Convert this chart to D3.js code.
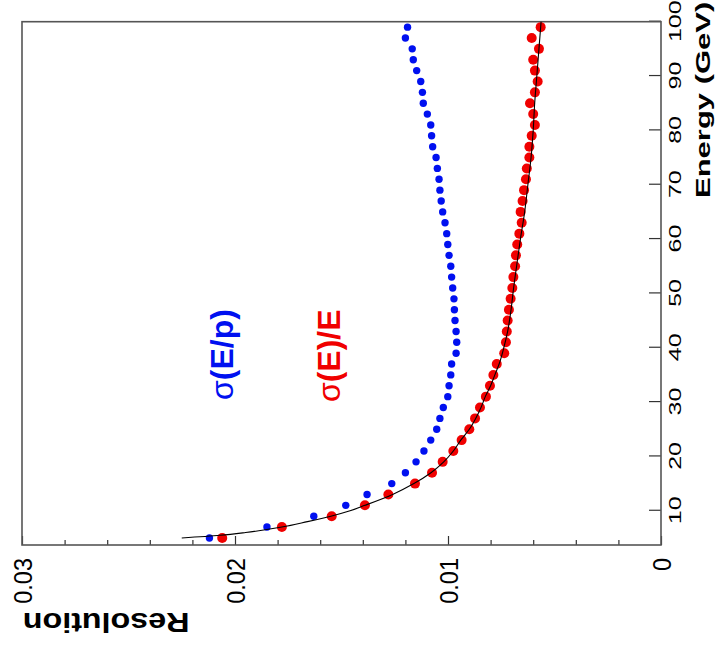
<!DOCTYPE html>
<html><head><meta charset="utf-8">
<script src="https://cdn.jsdelivr.net/npm/d3@7"></script>
<style>html,body{margin:0;padding:0;background:#fff}svg{display:block}</style>
</head><body><svg id="c" width="722" height="653"></svg>
<script>
// ---- data ----
const energies = [5,7,9,11,13,15,17,19,21,23,25,27,29,31,33,35,37,39,41,43,45,47,49,51,53,55,57,59,61,63,65,67,69,71,73,75,77,79,81,83,85,87,89,91,93,95,97,99];
const sigmaEoverP = [0.0212,0.0185,0.0163,0.0148,0.0138,0.01264,0.0120,0.0115,0.01113,0.01081,0.01053,0.01038,0.01022,0.01001,0.00995,0.00987,0.00983,0.00962,0.00959,0.00962,0.00967,0.00970,0.00972,0.00978,0.00983,0.00987,0.00995,0.01001,0.01006,0.01014,0.01025,0.01032,0.01038,0.01042,0.01050,0.01056,0.01072,0.01077,0.01081,0.01097,0.01116,0.01120,0.01128,0.01147,0.01163,0.01168,0.01200,0.01190];
const sigmaEoverE = [0.0206,0.0178,0.01546,0.0139,0.0128,0.01155,0.01075,0.01025,0.00975,0.00936,0.00900,0.00873,0.00850,0.00822,0.00803,0.00787,0.00771,0.00736,0.00728,0.00724,0.00720,0.00714,0.00706,0.00698,0.00693,0.00685,0.00681,0.00675,0.00665,0.00654,0.00659,0.00650,0.00643,0.00634,0.00630,0.00618,0.00618,0.00607,0.00592,0.00600,0.00615,0.00592,0.00579,0.00592,0.00600,0.00573,0.00607,0.00565];
const fitEnergy = [5,5.5,6,7,8,9,10,11,13,15,17,19,21,23,25,27,29,31,33,35,37,40,43,47,51,55,60,65,70,75,80,85,90,95,100];
const fitRes = [0.0225,0.0207,0.0195,0.0178,0.0166,0.0155,0.0146,0.0139,0.0126,0.0116,0.0108,0.0102,0.00975,0.0094,0.0090,0.0087,0.00845,0.00825,0.0080,0.0078,0.0076,0.00738,0.0072,0.00704,0.00692,0.00678,0.0066,0.0064,0.00625,0.0061,0.0060,0.00593,0.00583,0.00573,0.00563];
const energyTicks = [10,20,30,40,50,60,70,80,90,100];
const resTicks = [0,0.01,0.02,0.03];
const resMinorTicks = [0.002,0.004,0.006,0.008,0.012,0.014,0.016,0.018,0.022,0.024,0.026,0.028];
const seriesLabels = ["\u03c3", "(E/p)", "(E)/E"];

// ---- layout ----
const W = 523.3, H = 639;
const svg = d3.select('#c');
const g = svg.append('g').attr('transform', 'translate(22,545) rotate(-90)');
const x = d3.scaleLinear().domain([3.7, 100]).range([0, W]);
const y = d3.scaleLinear().domain([0, 0.03]).range([H, 0]);
const FONT = '"Liberation Sans", Arial, Helvetica, sans-serif';

// energy axis (bottom of the unrotated chart)
const ax = g.append('g').attr('transform', `translate(0,${H})`)
  .call(d3.axisBottom(x).tickValues(energyTicks).tickSizeInner(-12).tickSizeOuter(0));
ax.select('.domain').remove();
ax.selectAll('line').attr('stroke', '#333').attr('stroke-width', 1.2);
ax.selectAll('text').attr('y', null).attr('dy', null)
  .attr('transform', 'translate(0,20) scale(1,0.68)')
  .attr('font-family', FONT).attr('font-size', 25).attr('fill', '#000');

// resolution axis
const ay = g.append('g')
  .call(d3.axisLeft(y).tickValues(resTicks).tickSizeInner(-9).tickSizeOuter(0)
    .tickFormat(d => d === 0 ? '0' : d3.format('.2f')(d)));
ay.select('.domain').remove();
ay.selectAll('line').attr('stroke', '#333').attr('stroke-width', 1.2);
ay.selectAll('text').attr('x', null).attr('dy', null)
  .attr('transform', 'translate(-13,0) scale(1,1.12)')
  .attr('dy', '0.36em').attr('text-anchor', 'end')
  .attr('font-family', FONT).attr('font-size', 23.5).attr('fill', '#000');
const aym = g.append('g')
  .call(d3.axisLeft(y).tickValues(resMinorTicks).tickSizeInner(-5).tickSizeOuter(0).tickFormat(''));
aym.select('.domain').remove();
aym.selectAll('line').attr('stroke', '#333').attr('stroke-width', 1.2);

// frame
g.append('rect').attr('x', 0).attr('y', 0).attr('width', W).attr('height', H)
  .attr('fill', 'none').attr('stroke', '#555').attr('stroke-width', 1.6);

// axis titles
g.append('text').text('Energy (GeV)')
  .attr('transform', `translate(${x(100) + 20},${H + 49}) scale(1,0.66)`)
  .attr('text-anchor', 'end').attr('font-family', FONT).attr('font-weight', 'bold')
  .attr('font-size', 31).attr('fill', '#000');
g.append('text').text('Resolution')
  .attr('transform', `translate(-67.7,${y(0.03) + 0.7}) rotate(-90) scale(1,0.87)`)
  .attr('text-anchor', 'end').attr('font-family', FONT).attr('font-weight', 'bold')
  .attr('font-size', 32.3).attr('fill', '#000');

// points
g.append('g').selectAll('circle').data(energies).join('circle')
  .attr('cx', (d) => x(d)).attr('cy', (d, i) => y(sigmaEoverP[i]))
  .attr('r', 3.7).attr('fill', '#0010f0');
g.append('g').selectAll('circle').data(energies).join('circle')
  .attr('cx', (d) => x(d)).attr('cy', (d, i) => y(sigmaEoverE[i]))
  .attr('r', 5).attr('fill', '#f00000');

// fit line
const line = d3.line().x((d) => x(d)).y((d, i) => y(fitRes[i])).curve(d3.curveMonotoneX);
g.append('path').attr('d', line(fitEnergy)).attr('fill', 'none')
  .attr('stroke', '#000').attr('stroke-width', 1.1);

// series labels
function seriesLabel(e, r, rest, color) {
  const t = g.append('text').attr('x', x(e)).attr('y', y(r))
    .attr('font-family', FONT).attr('font-size', 32).attr('fill', color);
  t.append('tspan').text(seriesLabels[0]).attr('font-weight', 'normal');
  t.append('tspan').text(rest).attr('font-weight', 'bold');
}
seriesLabel(30.4, 0.0201, seriesLabels[1], '#0010f0');
seriesLabel(30.0, 0.01507, seriesLabels[2], '#f00000');
</script></body></html>
